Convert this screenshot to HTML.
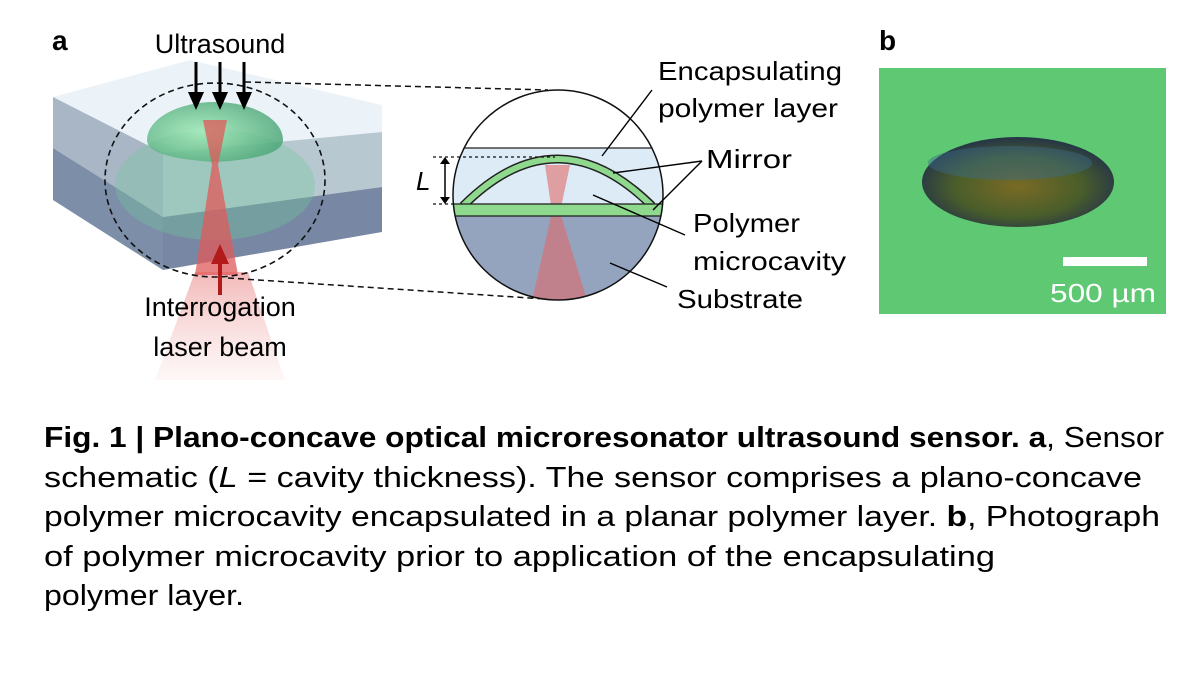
<!DOCTYPE html>
<html><head><meta charset="utf-8"><style>
html,body{margin:0;padding:0;background:#fff;}
svg{display:block;font-family:"Liberation Sans",sans-serif;}
</style></head><body>
<svg width="1199" height="690" viewBox="0 0 1199 690" xmlns="http://www.w3.org/2000/svg">
<defs>
<linearGradient id="fan" x1="0" y1="0" x2="0" y2="1"><stop offset="0" stop-color="#e88080" stop-opacity="0.7"/><stop offset="1" stop-color="#f4b8b8" stop-opacity="0.15"/></linearGradient>
<radialGradient id="dome" cx="0.4" cy="0.5" r="0.6"><stop offset="0" stop-color="#9ee8b4"/><stop offset="1" stop-color="#4fa87a"/></radialGradient>
<radialGradient id="lens" cx="0.5" cy="0.55" r="0.55"><stop offset="0" stop-color="#7a6a25"/><stop offset="0.6" stop-color="#4a5e2a"/><stop offset="1" stop-color="#243448"/></radialGradient>
<clipPath id="cc"><circle cx="558" cy="195" r="105"/></clipPath>
</defs>

<polygon points="53,97 190,60 382,105 382,132 163,153" fill="#e6f0f6" opacity="0.8"/>
<polygon points="53,97 163,153 163,217 53,148" fill="#a9b6c6"/>
<polygon points="163,153 382,132 382,187 163,217" fill="#b7c8d0"/>
<polygon points="53,148 163,217 163,270 53,200" fill="#7d8ea8"/>
<polygon points="163,217 382,187 382,232 163,270" fill="#7888a4"/>
<ellipse cx="215" cy="185" rx="100" ry="55" fill="#6fc99a" opacity="0.35"/>
<path d="M147,140 A68,38 0 0 1 283,140 Q283,158 215,162 Q147,158 147,140Z" fill="url(#dome)" opacity="0.85"/>
<path d="M195,272 L155,380 L285,380 L248,272Z" fill="url(#fan)" opacity="0.8"/>
<path d="M203,120 L227,120 L218,165 L238,275 L195,275 L212,165Z" fill="#e05a5a" opacity="0.75"/>
<ellipse cx="215" cy="180" rx="110" ry="97" fill="none" stroke="#111" stroke-width="1.6" stroke-dasharray="6,4"/>
<line x1="245" y1="82" x2="548" y2="90" stroke="#111" stroke-width="1.5" stroke-dasharray="6,4"/>
<line x1="228" y1="278" x2="545" y2="299" stroke="#111" stroke-width="1.5" stroke-dasharray="6,4"/>
<g stroke="#000" stroke-width="3"><line x1="196" y1="62" x2="196" y2="95"/><line x1="220" y1="62" x2="220" y2="95"/><line x1="244" y1="62" x2="244" y2="95"/></g>
<g fill="#000"><polygon points="188,92 204,92 196,110"/><polygon points="212,92 228,92 220,110"/><polygon points="236,92 252,92 244,110"/></g>
<line x1="220" y1="295" x2="220" y2="262" stroke="#b31b1b" stroke-width="4"/>
<polygon points="211,264 229,264 220,244" fill="#b31b1b"/>

<text x="52" y="50" font-size="28" font-weight="bold">a</text>
<text x="220" y="53" font-size="27" text-anchor="middle">Ultrasound</text>
<text x="220" y="316" font-size="27" text-anchor="middle">Interrogation</text>
<text x="220" y="356" font-size="27" text-anchor="middle">laser beam</text>

<g clip-path="url(#cc)">
<rect x="450" y="85" width="220" height="225" fill="#fff"/>
<rect x="450" y="148" width="220" height="60" fill="#dcebf6"/>
<rect x="450" y="214" width="220" height="100" fill="#94a4be"/>
<path d="M463,206 Q557,112 652,206Z" fill="#dcebf6"/>
<polygon points="545,165 570,165 560,212 590,310 530,310 552,212" fill="#e06a6a" opacity="0.6"/>
<line x1="450" y1="148" x2="670" y2="148" stroke="#222" stroke-width="1.3"/>
<path d="M463,206 Q557,112 652,206" fill="none" stroke="#222" stroke-width="9"/>
<path d="M463,206 Q557,112 652,206" fill="none" stroke="#8fd98f" stroke-width="6"/>
<rect x="450" y="204" width="220" height="12" fill="#8fd98f" stroke="#222" stroke-width="1.3"/>
</g>
<circle cx="558" cy="195" r="105" fill="none" stroke="#111" stroke-width="1.5"/>
<line x1="433" y1="157" x2="555" y2="157" stroke="#111" stroke-width="1.2" stroke-dasharray="3,3"/>
<line x1="433" y1="204" x2="455" y2="204" stroke="#111" stroke-width="1.2" stroke-dasharray="3,3"/>
<line x1="445" y1="162" x2="445" y2="199" stroke="#000" stroke-width="1.5"/>
<polygon points="440,164 450,164 445,157" fill="#000"/><polygon points="440,197 450,197 445,204" fill="#000"/>
<text x="416" y="190" font-size="26" font-style="italic">L</text>

<g stroke="#000" stroke-width="1.4" fill="none">
<line x1="652" y1="90" x2="602" y2="156"/>
<line x1="702" y1="161" x2="613" y2="173"/>
<line x1="702" y1="161" x2="653" y2="210"/>
<line x1="685" y1="235" x2="593" y2="195"/>
<line x1="667" y1="287" x2="610" y2="263"/>
</g>
<g font-size="26">
<text x="658" y="80" textLength="184" lengthAdjust="spacingAndGlyphs">Encapsulating</text>
<text x="658" y="117" textLength="180" lengthAdjust="spacingAndGlyphs">polymer layer</text>
<text x="706" y="168" textLength="86" lengthAdjust="spacingAndGlyphs">Mirror</text>
<text x="693" y="232" textLength="107" lengthAdjust="spacingAndGlyphs">Polymer</text>
<text x="693" y="270" textLength="153" lengthAdjust="spacingAndGlyphs">microcavity</text>
<text x="677" y="308" textLength="126" lengthAdjust="spacingAndGlyphs">Substrate</text>
</g>

<text x="879" y="50" font-size="28" font-weight="bold">b</text>
<rect x="879" y="68" width="287" height="246" fill="#5ec872"/>
<ellipse cx="1018" cy="182" rx="96" ry="45" fill="url(#lens)"/>
<ellipse cx="1010" cy="163" rx="82" ry="17" fill="#3a6a8a" opacity="0.45"/>
<rect x="1063" y="257" width="84" height="9" fill="#fff"/>
<text x="1050" y="302" font-size="26" fill="#fff" textLength="106" lengthAdjust="spacingAndGlyphs">500 µm</text>

<g font-size="29">
<text x="44" y="447" textLength="1120" lengthAdjust="spacingAndGlyphs"><tspan font-weight="bold">Fig. 1 | Plano-concave optical microresonator ultrasound sensor. a</tspan>, Sensor</text>
<text x="44" y="487" textLength="1098" lengthAdjust="spacingAndGlyphs">schematic (<tspan font-style="italic">L</tspan> = cavity thickness). The sensor comprises a plano-concave</text>
<text x="44" y="526" textLength="1116" lengthAdjust="spacingAndGlyphs">polymer microcavity encapsulated in a planar polymer layer. <tspan font-weight="bold">b</tspan>, Photograph</text>
<text x="44" y="566" textLength="951" lengthAdjust="spacingAndGlyphs">of polymer microcavity prior to application of the encapsulating</text>
<text x="44" y="605" textLength="200" lengthAdjust="spacingAndGlyphs">polymer layer.</text>
</g>
</svg>
</body></html>
